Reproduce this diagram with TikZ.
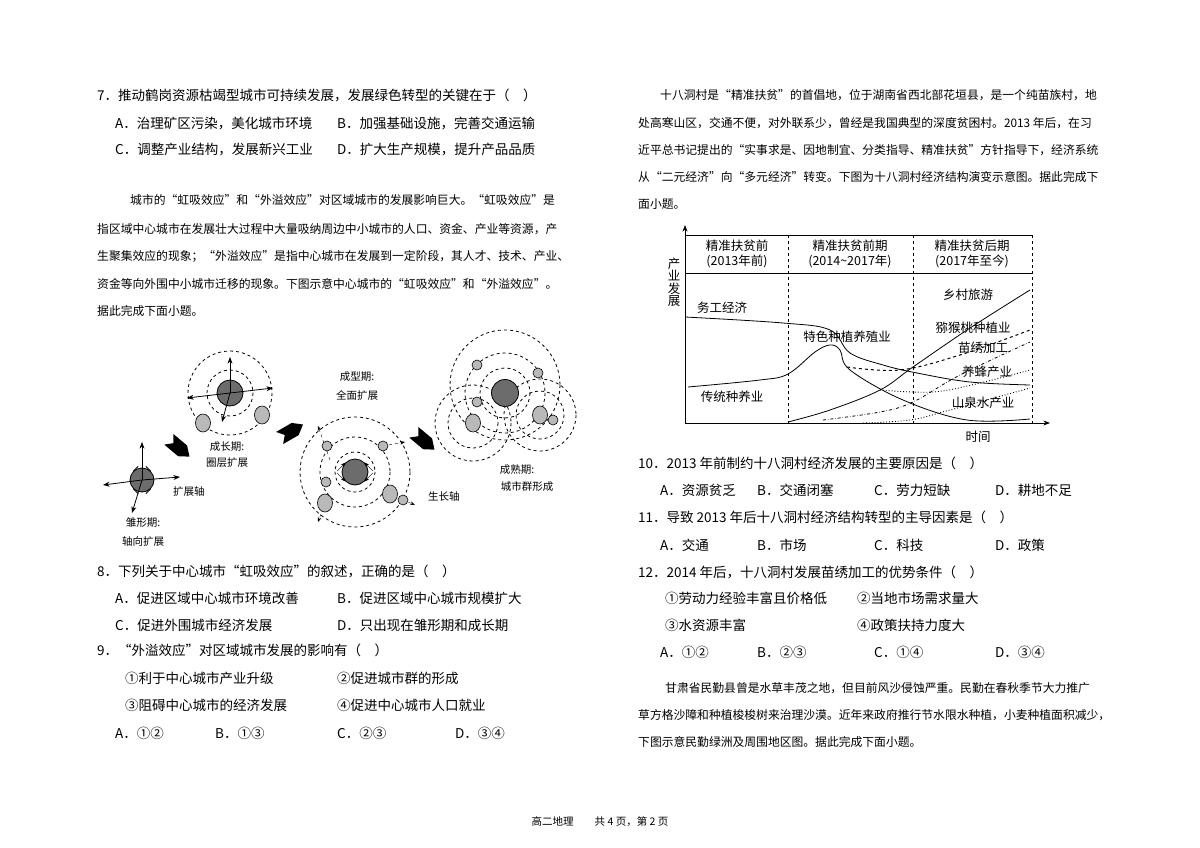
\documentclass[tikz,border=0pt]{standalone}
\usepackage{fontspec}
\setmainfont{Noto Sans CJK SC}
\usetikzlibrary{arrows.meta,shapes.geometric}
\tikzset{
  txt/.style={anchor=west,inner sep=0pt,font=\fontsize{13.5}{15}\selectfont},
  para/.style={anchor=west,inner sep=0pt,font=\fontsize{11.8}{14}\selectfont},
  lbl/.style={inner sep=0pt,font=\fontsize{10.5}{13}\selectfont},
  chlbl/.style={inner sep=0pt,font=\fontsize{12.5}{14.5}\selectfont},
  ring/.style={draw,dashed,line width=0.8pt},
  city/.style={draw,fill=gray!55,line width=0.6pt},
  core/.style={draw,fill=gray!85!black,line width=0.8pt},
  axe/.style={-Stealth,line width=0.8pt}
}
\newcommand{\fatarrow}[3]{\fill[shift={(#1,#2)},rotate=#3] (-12,-7) -- (6,-7) -- (15,0) -- (6,7) -- (-12,7) -- (-6,0) -- cycle;}
\begin{document}
\begin{tikzpicture}[x=1pt,y=-1pt]
\useasboundingbox (0,0) rectangle (1200,848);
%left column
\node[txt] (q7) at (97,95) {7．推动鹤岗资源枯竭型城市可持续发展，发展绿色转型的关键在于（　）};
\node[txt] (q7a) at (115,123) {A．治理矿区污染，美化城市环境};
\node[txt] (q7b) at (337,123) {B．加强基础设施，完善交通运输};
\node[txt] (q7c) at (115,150) {C．调整产业结构，发展新兴工业};
\node[txt] (q7d) at (337,150) {D．扩大生产规模，提升产品品质};
\node[para] (p1) at (130,200) {城市的“虹吸效应”和“外溢效应”对区域城市的发展影响巨大。“虹吸效应”是};
\node[para] (p2) at (97,229) {指区域中心城市在发展壮大过程中大量吸纳周边中小城市的人口、资金、产业等资源，产};
\node[para] (p3) at (97,256) {生聚集效应的现象；“外溢效应”是指中心城市在发展到一定阶段，其人才、技术、产业、};
\node[para] (p4) at (97,284) {资金等向外围中小城市迁移的现象。下图示意中心城市的“虹吸效应”和“外溢效应”。};
\node[para] (p5) at (97,311) {据此完成下面小题。};
%stage 1
\node[core,circle,minimum size=24pt,inner sep=0pt] (c1) at (142,480) {};
\draw[axe] (142,480) -- (142,442);
\draw[axe] (142,480) -- (103,485);
\draw[axe] (142,480) -- (180,477);
\draw[axe] (142,480) -- (132,513);
\foreach \a in {45,135,225,315} \draw[line width=0.8pt] (c1.\a) -- ++(\a:-7);
\node[lbl,anchor=west] (l1) at (173,492) {扩展轴};
\node[lbl] (l1a) at (143,523) {雏形期:};
\node[lbl] (l1b) at (143,542) {轴向扩展};
\fatarrow{178}{447}{-40}
%stage 2
\draw[ring] (230,393) circle (23);
\draw[ring] (230,393) circle (42);
\node[core,circle,minimum size=26pt,inner sep=0pt] (c2) at (230,393) {};
\draw[axe] (230,393) -- (230,357);
\draw[axe] (230,393) -- (187,398);
\draw[axe] (230,393) -- (273,388);
\draw[axe] (230,393) -- (222,422);
\node[city,ellipse,minimum width=15pt,minimum height=18pt,inner sep=0pt] (s2a) at (203,423) {};
\node[city,ellipse,minimum width=15pt,minimum height=18pt,inner sep=0pt] (s2b) at (262,415) {};
\node[lbl] (l2a) at (227,447) {成长期:};
\node[lbl] (l2b) at (227,463) {圈层扩展};
\fatarrow{290}{432}{30}
%stage 3
\draw[ring] (355,472) circle (20);
\draw[ring] (355,472) circle (35);
\draw[ring] (355,472) circle (55);
\draw[-Stealth,dashed] (330,460) -- (318,426);
\draw[-Stealth,dashed] (383,446) -- (405,442);
\draw[-Stealth,dashed] (325,503) -- (318,522);
\draw[-Stealth,dashed] (403,500) -- (415,505);
\node[core,circle,minimum size=26pt,inner sep=0pt] (c3) at (355,472) {};
\foreach \p/\s in {327/446,383/446,326/482}
  \node[city,circle,minimum size=10pt,inner sep=0pt] at (\p,\s) {};
\node[city,ellipse,minimum width=15pt,minimum height=18pt,inner sep=0pt] (s3a) at (325,503) {};
\node[city,ellipse,minimum width=15pt,minimum height=18pt,inner sep=0pt] (s3b) at (390,494) {};
\node[city,circle,minimum size=10pt,inner sep=0pt] (s3c) at (403,500) {};
\foreach \a in {45,135,225,315} \draw[-Stealth] (c3.\a) ++(\a:12) -- (c3.\a);
\node[lbl] (l3a) at (357,377) {成型期:};
\node[lbl] (l3b) at (357,395) {全面扩展};
\node[lbl,anchor=west] (l3c) at (428,497) {生长轴};
\fatarrow{423}{440}{-40}
%stage 4
\draw[ring] (505,385) circle (55);
\draw[ring] (505,393) circle (25);
\draw[ring] (505,393) circle (40);
\draw[ring] (473,423) circle (25);
\draw[ring] (473,423) circle (38);
\draw[ring] (540,415) circle (24);
\draw[ring] (540,415) circle (36);
\node[core,circle,minimum size=27pt,inner sep=0pt] (c4) at (505,393) {};
\foreach \p/\s in {477/365,538/373,477/402,553/420}
  \node[city,circle,minimum size=10pt,inner sep=0pt] at (\p,\s) {};
\node[city,ellipse,minimum width=15pt,minimum height=18pt,inner sep=0pt] (s4a) at (473,423) {};
\node[city,ellipse,minimum width=15pt,minimum height=18pt,inner sep=0pt] (s4b) at (540,415) {};
\node[lbl] (l4a) at (517,470) {成熟期:};
\node[lbl] (l4b) at (527,487) {城市群形成};
%questions 8 9
\node[txt] (q8) at (97,571) {8．下列关于中心城市“虹吸效应”的叙述，正确的是（　）};
\node[txt] (q8a) at (115,598) {A．促进区域中心城市环境改善};
\node[txt] (q8b) at (337,598) {B．促进区域中心城市规模扩大};
\node[txt] (q8c) at (115,625) {C．促进外围城市经济发展};
\node[txt] (q8d) at (337,625) {D．只出现在雏形期和成长期};
\node[txt] (q9) at (97,650) {9．“外溢效应”对区域城市发展的影响有（　）};
\node[txt] (q9o1) at (125,678) {①利于中心城市产业升级};
\node[txt] (q9o2) at (337,678) {②促进城市群的形成};
\node[txt] (q9o3) at (125,705) {③阻碍中心城市的经济发展};
\node[txt] (q9o4) at (337,705) {④促进中心城市人口就业};
\node[txt] (q9a) at (115,733) {A．①②};
\node[txt] (q9b) at (215,733) {B．①③};
\node[txt] (q9c) at (337,733) {C．②③};
\node[txt] (q9d) at (455,733) {D．③④};
%right column
\node[para] (r1) at (660,95) {十八洞村是“精准扶贫”的首倡地，位于湖南省西北部花垣县，是一个纯苗族村，地};
\node[para] (r2) at (638,123) {处高寒山区，交通不便，对外联系少，曾经是我国典型的深度贫困村。2013 年后，在习};
\node[para] (r3) at (638,150) {近平总书记提出的“实事求是、因地制宜、分类指导、精准扶贫”方针指导下，经济系统};
\node[para] (r4) at (638,177) {从“二元经济”向“多元经济”转变。下图为十八洞村经济结构演变示意图。据此完成下};
\node[para] (r5) at (638,204) {面小题。};
%chart
\draw[line width=0.9pt] (685,235) -- (1032,235) (685,273) -- (1032,273);
\draw[dashed,line width=0.9pt] (788,235) -- (788,423) (913,235) -- (913,423) (1032,235) -- (1032,423);
\draw[axe] (685,423) -- (685,225);
\draw[axe] (685,423) -- (1050,423);
\node[chlbl,align=center] (h1) at (737,254) {精准扶贫前\\(2013年前)};
\node[chlbl,align=center] (h2) at (850,254) {精准扶贫前期\\(2014\textasciitilde2017年)};
\node[chlbl,align=center] (h3) at (972,254) {精准扶贫后期\\(2017年至今)};
\node[chlbl,align=center] (yl) at (674,282) {产\\[-2pt]业\\[-2pt]发\\[-2pt]展};
\node[chlbl] (xl) at (978,437) {时间};
\draw[line width=0.8pt] plot[smooth,tension=0.6] coordinates {(685,317) (783,323) (830,330) (850,353) (883,365) (917,373) (970,382) (1030,385)};
\draw[line width=0.8pt] plot[smooth,tension=0.6] coordinates {(688,387) (760,380) (788,374) (815,352) (830,345) (840,350) (850,370) (903,400) (967,420) (1030,419)};
\draw[line width=0.8pt] plot[smooth,tension=0.6] coordinates {(788,422) (830,410) (880,390) (913,367) (970,328) (1030,290)};
\draw[dashed,line width=1pt] plot[smooth,tension=0.6] coordinates {(847,367) (900,370) (960,355) (1030,330)};
\draw[dash dot,line width=0.8pt] plot[smooth,tension=0.6] coordinates {(823,420) (880,412) (913,402) (960,375) (1030,342)};
\draw[dotted,line width=0.9pt] plot[smooth,tension=0.6] coordinates {(880,390) (933,392) (980,383) (1030,370)};
\draw[dotted,line width=0.9pt] plot[smooth,tension=0.6] coordinates {(863,423) (910,420) (950,410) (1030,388)};
\node[chlbl] (cl1) at (722,308) {务工经济};
\node[chlbl] (cl2) at (847,337) {特色种植养殖业};
\node[chlbl] (cl3) at (732,397) {传统种养业};
\node[chlbl] (cl4) at (968,295) {乡村旅游};
\node[chlbl] (cl5) at (973,328) {猕猴桃种植业};
\node[chlbl] (cl6) at (983,348) {苗绣加工};
\node[chlbl] (cl7) at (987,372) {养蜂产业};
\node[chlbl] (cl8) at (983,403) {山泉水产业};
%questions 10-12
\node[txt] (q10) at (638,463) {10．2013 年前制约十八洞村经济发展的主要原因是（　）};
\node[txt] (q10a) at (660,490) {A．资源贫乏};
\node[txt] (q10b) at (757,490) {B．交通闭塞};
\node[txt] (q10c) at (874,490) {C．劳力短缺};
\node[txt] (q10d) at (995,490) {D．耕地不足};
\node[txt] (q11) at (638,517) {11．导致 2013 年后十八洞村经济结构转型的主导因素是（　）};
\node[txt] (q11a) at (660,545) {A．交通};
\node[txt] (q11b) at (757,545) {B．市场};
\node[txt] (q11c) at (874,545) {C．科技};
\node[txt] (q11d) at (995,545) {D．政策};
\node[txt] (q12) at (638,572) {12．2014 年后，十八洞村发展苗绣加工的优势条件（　）};
\node[txt] (q12o1) at (665,598) {①劳动力经验丰富且价格低};
\node[txt] (q12o2) at (857,598) {②当地市场需求量大};
\node[txt] (q12o3) at (665,625) {③水资源丰富};
\node[txt] (q12o4) at (857,625) {④政策扶持力度大};
\node[txt] (q12a) at (660,652) {A．①②};
\node[txt] (q12b) at (757,652) {B．②③};
\node[txt] (q12c) at (874,652) {C．①④};
\node[txt] (q12d) at (995,652) {D．③④};
\node[para] (g1) at (665,688) {甘肃省民勤县曾是水草丰茂之地，但目前风沙侵蚀严重。民勤在春秋季节大力推广};
\node[para] (g2) at (638,715) {草方格沙障和种植梭梭树来治理沙漠。近年来政府推行节水限水种植，小麦种植面积减少，};
\node[para] (g3) at (638,742) {下图示意民勤绿洲及周围地区图。据此完成下面小题。};
%footer
\node[lbl] (ft) at (600,822) {高二地理\qquad 共 4 页，第 2 页};
\end{tikzpicture}
\end{document}
